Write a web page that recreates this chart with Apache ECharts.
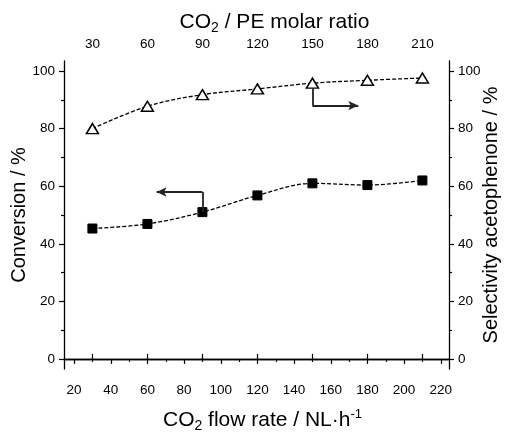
<!DOCTYPE html>
<html>
<head>
<meta charset="utf-8">
<script src="https://cdn.jsdelivr.net/npm/echarts@6/dist/echarts.min.js"></script>
<style>
html,body{margin:0;padding:0;background:#fff;}
#chart{width:507px;height:433px;}
</style>
</head>
<body>
<div id="chart"></div>
<script>
// ---- data ----
const flowRate = [30, 60, 90, 120, 150, 180, 210];
const conversion = [45.3, 46.9, 51.0, 56.8, 61.0, 60.4, 62.0];
const selectivity = [80.0, 87.8, 91.8, 93.8, 95.8, 96.8, 97.6];
// ---- ticks ----
const bottomTicks = [20, 40, 60, 80, 100, 120, 140, 160, 180, 200, 220];
const bottomMinor = [30, 50, 70, 90, 110, 130, 150, 170, 190, 210];
const topTicks = [30, 60, 90, 120, 150, 180, 210];
const yTicks = [0, 20, 40, 60, 80, 100];
const yMinor = [10, 30, 50, 70, 90];
// ---- annotation arrows (data coords) ----
const convArrow = [[90, 51.0], [90, 58.0], [65, 58.0]];
const selArrow = [[150, 94.0], [150, 88.0], [175, 88.0]];

const X_MIN = 14.5, X_MAX = 224.5, Y_MIN = -3.5, Y_MAX = 103.5;
const FONT = '"Liberation Sans", Arial, Helvetica, sans-serif';
const BLACK = '#000';

const titleRich = {
  n: {fontSize: 21, fontFamily: FONT, color: BLACK, lineHeight: 25},
  s: {fontSize: 14, fontFamily: FONT, color: BLACK, lineHeight: 12, verticalAlign: 'bottom'},
  p: {fontSize: 13, fontFamily: FONT, color: BLACK, lineHeight: 12, verticalAlign: 'top'}
};
const axLine = {show: true, lineStyle: {color: BLACK, width: 1.3}};
const tickLbl = {fontSize: 13.5, fontFamily: FONT, color: BLACK};

function arrowMark(pts) {
  return [
    [{coord: pts[0], symbol: 'none'}, {coord: pts[1], symbol: 'none'}],
    [{coord: pts[1], symbol: 'none'}, {coord: pts[2], symbol: 'arrow'}]
  ];
}

const chart = echarts.init(document.getElementById('chart'), null, {renderer: 'canvas'});
chart.setOption({
  animation: false,
  backgroundColor: '#fff',
  grid: {left: 64, right: 58, top: 61, bottom: 64, containLabel: false, outerBoundsMode: 'none'},
  xAxis: [
    {
      type: 'value', position: 'bottom', min: X_MIN, max: X_MAX,
      name: '{n|CO}{s|2}{n| flow rate / NL·h}{p|-1}',
      nameLocation: 'middle', nameGap: 39, nameMoveOverlap: false,
      nameTextStyle: {rich: titleRich, padding: [0, 0, 0, 12]},
      axisLine: axLine,
      axisTick: {show: true, customValues: bottomTicks, length: 5, lineStyle: {color: BLACK, width: 1.2}},
      axisLabel: Object.assign({customValues: bottomTicks, margin: 14}, tickLbl),
      splitLine: {show: false}
    },
    {
      type: 'value', position: 'bottom', min: X_MIN, max: X_MAX,
      axisLine: {show: false},
      axisTick: {show: true, customValues: bottomMinor, length: 3, lineStyle: {color: BLACK, width: 1.2}},
      axisLabel: {show: false},
      splitLine: {show: false}
    },
    {
      type: 'value', position: 'top', min: X_MIN, max: X_MAX,
      name: '{n|CO}{s|2}{n| / PE molar ratio}',
      nameLocation: 'middle', nameGap: 26, nameMoveOverlap: false,
      nameTextStyle: {rich: titleRich, padding: [0, 0, 0, 36]},
      axisLine: axLine,
      axisTick: {show: true, customValues: topTicks, length: 5, lineStyle: {color: BLACK, width: 1.2}},
      axisLabel: Object.assign({customValues: topTicks, margin: 10}, tickLbl),
      splitLine: {show: false}
    }
  ],
  yAxis: [
    {
      type: 'value', position: 'left', min: Y_MIN, max: Y_MAX,
      name: 'Conversion / %', nameLocation: 'middle', nameGap: 35, nameRotate: 90, nameMoveOverlap: false,
      nameTextStyle: {fontSize: 20, fontFamily: FONT, color: BLACK},
      axisLine: axLine,
      axisTick: {show: true, customValues: yTicks, length: 5, lineStyle: {color: BLACK, width: 1.2}},
      axisLabel: Object.assign({customValues: yTicks, margin: 9}, tickLbl),
      splitLine: {show: false}
    },
    {
      type: 'value', position: 'left', min: Y_MIN, max: Y_MAX,
      axisLine: {show: false},
      axisTick: {show: true, customValues: yMinor, length: 3, lineStyle: {color: BLACK, width: 1.2}},
      axisLabel: {show: false},
      splitLine: {show: false}
    },
    {
      type: 'value', position: 'right', min: Y_MIN, max: Y_MAX,
      name: 'Selectivity acetophenone / %', nameLocation: 'middle', nameGap: 32, nameRotate: 90, nameMoveOverlap: false,
      nameTextStyle: {fontSize: 20, fontFamily: FONT, color: BLACK},
      axisLine: axLine,
      axisTick: {show: true, customValues: yTicks, length: 5, lineStyle: {color: BLACK, width: 1.2}},
      axisLabel: Object.assign({customValues: yTicks, margin: 9}, tickLbl),
      splitLine: {show: false}
    },
    {
      type: 'value', position: 'right', min: Y_MIN, max: Y_MAX,
      axisLine: {show: false},
      axisTick: {show: true, customValues: yMinor, length: 3, lineStyle: {color: BLACK, width: 1.2}},
      axisLabel: {show: false},
      splitLine: {show: false}
    }
  ],
  series: [
    {
      name: 'Conversion', type: 'line', xAxisIndex: 0, yAxisIndex: 0,
      data: flowRate.map((x, i) => [x, conversion[i]]),
      smooth: 0.35,
      lineStyle: {color: BLACK, width: 1.3, type: [4, 2]},
      symbol: 'rect', symbolSize: 9,
      itemStyle: {color: BLACK, borderColor: BLACK},
      z: 3,
      markLine: {
        silent: true, animation: false,
        symbolSize: [7, 10],
        label: {show: false},
        lineStyle: {color: '#222', width: 1.8, type: 'solid'},
        data: arrowMark(convArrow)
      }
    },
    {
      name: 'Selectivity', type: 'line', xAxisIndex: 0, yAxisIndex: 2,
      data: flowRate.map((x, i) => [x, selectivity[i]]),
      smooth: 0.35,
      lineStyle: {color: BLACK, width: 1.3, type: [4, 2]},
      symbol: 'triangle', symbolSize: [12, 10],
      itemStyle: {color: '#fff', borderColor: BLACK, borderWidth: 1.5},
      z: 3,
      markLine: {
        silent: true, animation: false,
        symbolSize: [7, 10],
        label: {show: false},
        lineStyle: {color: '#222', width: 1.8, type: 'solid'},
        data: arrowMark(selArrow)
      }
    }
  ]
});
</script>
</body>
</html>
